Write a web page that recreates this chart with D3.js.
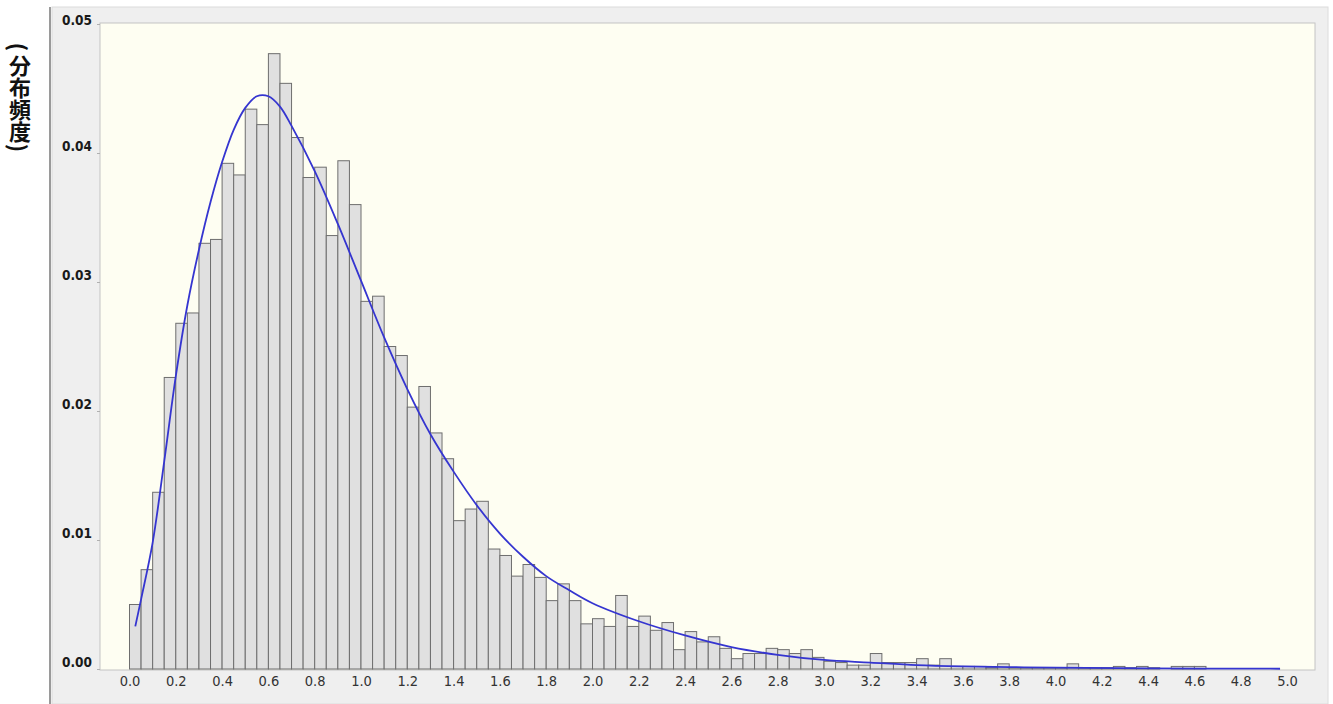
<!DOCTYPE html>
<html>
<head>
<meta charset="utf-8">
<script src="https://cdn.jsdelivr.net/npm/d3@7"></script>
<style>
  body { margin: 0; background: #fff; }
  svg { display: block; }
</style>
</head>
<body>
<div class="dataviz"><svg></svg></div>
<script>
// histogram: bin width 0.05, starting at 0.00
const binWidth = 0.05
const freq = [
  0.0050, 0.0077, 0.0137, 0.0226, 0.0268, 0.0276, 0.0330, 0.0333, 0.0392, 0.0383,
  0.0434, 0.0422, 0.0477, 0.0454, 0.0412, 0.0381, 0.0389, 0.0336, 0.0394, 0.0360,
  0.0285, 0.0289, 0.0250, 0.0243, 0.0203, 0.0219, 0.0183, 0.0163, 0.0115, 0.0124,
  0.0130, 0.0093, 0.0088, 0.0072, 0.0081, 0.0071, 0.0053, 0.0066, 0.0053, 0.0035,
  0.0039, 0.0033, 0.0057, 0.0033, 0.0041, 0.0030, 0.0036, 0.0015, 0.0029, 0.0021,
  0.0025, 0.0016, 0.0008, 0.0012, 0.0012, 0.0016, 0.0015, 0.0012, 0.0015, 0.0009,
  0.0006, 0.0005, 0.0003, 0.0003, 0.0012, 0.0005, 0.0005, 0.0005, 0.0008, 0.0003,
  0.0008, 0.0002, 0.0002, 0.0002, 0.0001, 0.0004, 0.0001, 0.0001, 0.0001, 0.0001,
  0.0001, 0.0004, 0.0001, 0.0001, 0.0001, 0.0002, 0.0001, 0.0002, 0.0001, 0.0000,
  0.0002, 0.0002, 0.0002
]

// fitted density curve
const curveX = [0.025, 0.05, 0.1, 0.15, 0.2, 0.25, 0.3, 0.35, 0.4, 0.45, 0.5, 0.55, 0.6, 0.65, 0.7,
  0.8, 0.9, 1.0, 1.1, 1.2, 1.3, 1.4, 1.5, 1.6, 1.7, 1.8, 1.9, 2.0, 2.2, 2.4, 2.6, 2.8, 3.0,
  3.2, 3.4, 3.6, 3.8, 4.0, 4.4, 4.97]
const curveY = [0.0033, 0.0054, 0.0098, 0.0161, 0.0227, 0.0282, 0.0325, 0.0362, 0.0393, 0.0418,
  0.0435, 0.0444, 0.0444, 0.0436, 0.0421, 0.0386, 0.0345, 0.0301, 0.0257, 0.0217, 0.0182,
  0.0153, 0.0127, 0.0105, 0.0087, 0.0072, 0.0061, 0.0051, 0.0037, 0.0026, 0.0017, 0.0011,
  0.0007, 0.0005, 0.0003, 0.0002, 0.00015, 0.0001, 0.00005, 0.00002]

const xTicks = [0.0, 0.2, 0.4, 0.6, 0.8, 1.0, 1.2, 1.4, 1.6, 1.8, 2.0, 2.2, 2.4, 2.6, 2.8, 3.0,
  3.2, 3.4, 3.6, 3.8, 4.0, 4.2, 4.4, 4.6, 4.8, 5.0]
const yTicks = [0.00, 0.01, 0.02, 0.03, 0.04, 0.05]
const yTitle = "分布頻度"

width = 1333,
    height = 704
var plot = { left: 100, right: 1315, top: 23, bottom: 670 }

var x = d3.scaleLinear().domain([0, 5]).range([129.5, 1287])
var y = d3.scaleLinear().domain([0, 0.05]).range([669, 24])

var svg = d3.select(".dataviz > svg")
    .attr("width", width)
    .attr("height", height)
    .attr("viewBox", [0, 0, width, height])

// outer panel
svg.append("rect")
    .attr("x", 52).attr("y", 7)
    .attr("width", 1276).attr("height", height - 7)
    .attr("fill", "#efefef")
    .attr("stroke", "#dcdcdc")
svg.append("line")
    .attr("x1", 50).attr("x2", 50)
    .attr("y1", 7).attr("y2", height)
    .attr("stroke", "#9a9a9a").attr("stroke-width", 2)

// plot area
svg.append("rect")
    .attr("x", plot.left).attr("y", plot.top)
    .attr("width", plot.right - plot.left).attr("height", plot.bottom - plot.top)
    .attr("fill", "#fefef2")
    .attr("stroke", "#c4c4c4")

// bars
svg.append("g").attr("class", "bars")
    .selectAll("rect")
    .data(freq)
    .join("rect")
    .attr("x", (d, i) => x(i * binWidth))
    .attr("y", d => y(d))
    .attr("width", (d, i) => x((i + 1) * binWidth) - x(i * binWidth))
    .attr("height", d => y(0) - y(d))
    .attr("fill", "#e0e0e0")
    .attr("stroke", "#6e6e6e")
    .attr("stroke-width", 1)

// density curve
var line = d3.line()
    .x((d, i) => x(curveX[i]))
    .y(d => y(d))
    .curve(d3.curveCatmullRom.alpha(0.5))
svg.append("path")
    .datum(curveY)
    .attr("d", line)
    .attr("fill", "none")
    .attr("stroke", "#3535d0")
    .attr("stroke-width", 1.8)

// y axis
var yAxis = g => g
    .attr("transform", `translate(${plot.left},0)`)
    .call(d3.axisLeft(y).tickValues(yTicks).tickFormat(d3.format(".2f")).tickSize(3).tickPadding(5))
    .call(g => g.select(".domain").remove())
    .call(g => g.selectAll(".tick line").attr("stroke", "#b0b0b0"))
    .call(g => g.selectAll(".tick text")
        .attr("dy", (d) => d == 0.05 ? "0.05em" : "-0.15em")
        .attr("fill", "#1a1a1a")
        .attr("font-weight", "bold")
        .attr("font-size", 13.5)
        .attr("font-family", "DejaVu Sans Condensed, DejaVu Sans, sans-serif"))
svg.append("g").attr("class", "yaxis").call(yAxis)

// x axis
var xAxis = g => g
    .attr("transform", `translate(0,${plot.bottom})`)
    .call(d3.axisBottom(x).tickValues(xTicks).tickFormat(d3.format(".1f")).tickSize(0).tickPadding(6))
    .call(g => g.select(".domain").remove())
    .call(g => g.selectAll(".tick text")
        .attr("fill", "#333")
        .attr("font-size", 14.5)
        .attr("font-family", "DejaVu Sans Condensed, DejaVu Sans, sans-serif"))
svg.append("g").attr("class", "xaxis").call(xAxis)

// y title: vertical column, brackets turned sideways
var title = svg.append("g").attr("class", "ytitle")
    .attr("font-family", "Noto Sans CJK JP, sans-serif")
    .attr("font-weight", "bold")
    .attr("fill", "#111")
title.append("text")
    .attr("x", 20).attr("y", 55)
    .style("writing-mode", "vertical-rl")
    .attr("font-size", 22)
    .text(yTitle)
title.selectAll(".br")
    .data([["(", 47], [")", 148]])
    .join("text")
    .attr("class", "br")
    .attr("transform", d => `translate(20,${d[1]}) rotate(90)`)
    .attr("text-anchor", "middle")
    .attr("dominant-baseline", "central")
    .attr("font-size", 22)
    .text(d => d[0])
</script>
</body>
</html>
